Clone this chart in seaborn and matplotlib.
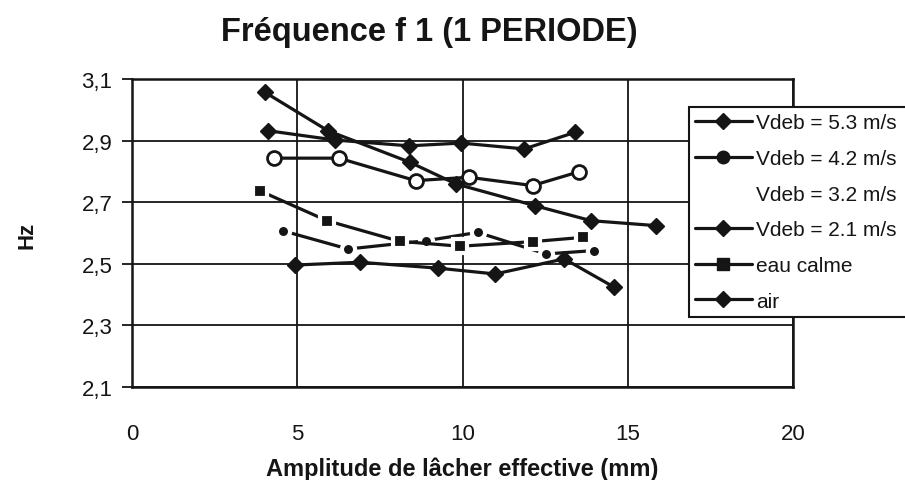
import matplotlib
matplotlib.use("Agg")
import matplotlib.pyplot as plt
import seaborn as sns
import pandas as pd
from matplotlib.lines import Line2D
from matplotlib.ticker import FuncFormatter

# ---- text ----
title = "Fréquence f 1 (1 PERIODE)"
xlabel = "Amplitude de lâcher effective (mm)"
ylabel = "Hz"
labels = ["Vdeb = 5.3 m/s", "Vdeb = 4.2 m/s", "Vdeb = 3.2 m/s",
          "Vdeb = 2.1 m/s", "eau calme", "air"]
xticks = [0, 5, 10, 15, 20]
yticks = [2.1, 2.3, 2.5, 2.7, 2.9, 3.1]

# ---- data ----
x_53 = [4.12, 6.13, 8.38, 9.96, 11.87, 13.41]
y_53 = [2.932, 2.902, 2.883, 2.892, 2.873, 2.927]
x_42 = [4.57, 6.54, 8.90, 10.46, 12.53, 13.99]
y_42 = [2.607, 2.548, 2.575, 2.602, 2.532, 2.543]
x_32 = [4.29, 6.26, 8.58, 10.19, 12.12, 13.53]
y_32 = [2.843, 2.843, 2.770, 2.781, 2.754, 2.799]
x_21 = [4.94, 6.89, 9.25, 10.99, 13.08, 14.59]
y_21 = [2.496, 2.505, 2.486, 2.467, 2.516, 2.424]
x_eau = [3.87, 5.90, 8.10, 9.93, 12.12, 13.66]
y_eau = [2.737, 2.640, 2.573, 2.557, 2.572, 2.586]
x_air = [4.02, 5.93, 8.40, 9.81, 12.18, 13.89, 15.85]
y_air = [3.057, 2.932, 2.830, 2.759, 2.689, 2.640, 2.624]

sns.set_style("white")
plt.rcParams["font.family"] = ["Liberation Sans", "DejaVu Sans"]

INK = "#151515"
fig = plt.figure(figsize=(9.05, 4.81), dpi=100)
ax = fig.add_axes([132 / 905, 1 - 388 / 481, (793 - 132) / 905, (388 - 80) / 481])

styles = [
    dict(x=x_53, y=y_53, marker="D", markersize=8, mec=INK, mew=1, mfc=INK),
    dict(x=x_42, y=y_42, marker="o", markersize=9.5, mec="white", mew=3, mfc=INK),
    dict(x=x_32, y=y_32, marker="o", markersize=10, mec=INK, mew=2, mfc="white"),
    dict(x=x_21, y=y_21, marker="D", markersize=8, mec=INK, mew=1, mfc=INK),
    dict(x=x_eau, y=y_eau, marker="s", markersize=10.5, mec="white", mew=3, mfc=INK),
    dict(x=x_air, y=y_air, marker="D", markersize=8, mec=INK, mew=1, mfc=INK),
]

for lab, st in zip(labels, styles):
    df = pd.DataFrame({"x": st["x"], "y": st["y"]})
    sns.lineplot(data=df, x="x", y="y", ax=ax, sort=False, estimator=None,
                 color=INK, linewidth=2.3, marker=st["marker"],
                 markersize=st["markersize"], markeredgecolor=st["mec"],
                 markeredgewidth=st["mew"], markerfacecolor=st["mfc"],
                 label=lab)

ax.set_xlim(0, 20)
ax.set_ylim(2.1, 3.1)
ax.set_xticks(xticks)
ax.set_yticks(yticks)
ax.yaxis.set_major_formatter(FuncFormatter(lambda v, p: f"{v:.1f}".replace(".", ",")))
ax.xaxis.set_major_formatter(FuncFormatter(lambda v, p: f"{v:g}"))
ax.grid(True, color=INK, linewidth=1.3)
ax.set_axisbelow(True)
for sp in ax.spines.values():
    sp.set_color(INK)
    sp.set_linewidth(1.8)
ax.tick_params(axis="y", direction="out", length=7, width=1.3, color=INK,
               labelsize=16, pad=7, labelcolor=INK, left=True)
ax.tick_params(axis="x", length=0, labelsize=16, pad=26, labelcolor=INK)

ax.set_xlabel(xlabel, fontsize=17, fontweight="bold", color=INK, labelpad=9)
ax.set_ylabel("")
fig.text(27 / 905, 1 - 235 / 481, ylabel, rotation=90, fontsize=16,
         fontweight="bold", color=INK, ha="center", va="center")
fig.text(429 / 905, 1 - 32 / 481, title, fontsize=23.5, fontweight="bold",
         color=INK, ha="center", va="center")

handles, labs = ax.get_legend_handles_labels()
handles = list(handles)
handles[2] = Line2D([], [], color="none", marker=None)
leg = ax.legend(handles, labs, loc="upper left", mode="expand",
                bbox_to_anchor=(689 / 905, 1 - 316 / 481, 250 / 905, 208 / 481),
                bbox_transform=fig.transFigure, borderaxespad=0,
                frameon=True, fancybox=False, framealpha=1, edgecolor=INK,
                fontsize=15, handlelength=2.7, handletextpad=0.2,
                labelspacing=0.8, borderpad=0.3)
leg.get_frame().set_linewidth(1.5)
for t in leg.get_texts():
    t.set_color(INK)
for i, h in enumerate(leg.legend_handles):
    if i in (1, 4):
        h.set_markeredgecolor(INK)
        h.set_markeredgewidth(1)
        h.set_markersize(9)

fig.savefig("out.png", dpi=100)
